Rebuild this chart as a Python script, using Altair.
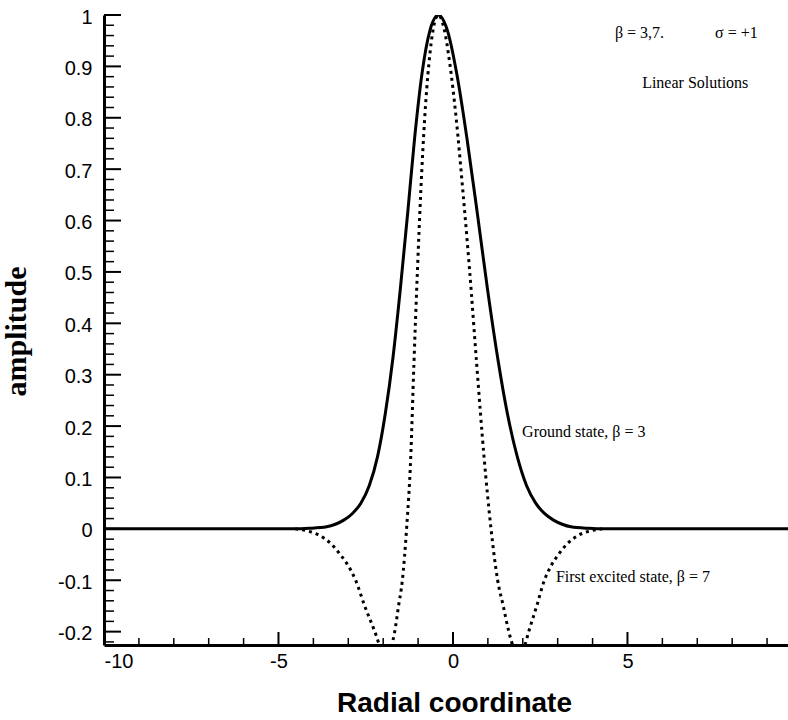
import altair as alt
import pandas as pd

# Ground state, beta = 3 (solid)
ground_x = [-10, -4.62, -4.12, -3.62, -3.37, -3.13, -2.88, -2.64, -2.40, -2.16, -1.94, -1.72,
            -1.51, -1.30, -1.10, -0.89, -0.66, -0.42, -0.16, 0.11, 0.40, 0.70, 0.99, 1.28,
            1.56, 1.84, 2.11, 2.37, 2.62, 2.88, 3.13, 3.38, 3.88, 4.38, 9.6]
ground_y = [0, 0, 0.001, 0.004, 0.009, 0.017, 0.030, 0.050, 0.084, 0.141, 0.224, 0.333,
            0.466, 0.613, 0.760, 0.885, 0.970, 1.000, 0.970, 0.885, 0.760, 0.613, 0.466, 0.333,
            0.224, 0.141, 0.084, 0.050, 0.030, 0.017, 0.009, 0.004, 0.001, 0, 0]

# First excited state, beta = 7 (dotted)
excited_x = [-4.52, -4.12, -3.82, -3.51, -3.23, -3.00, -2.79, -2.53, -2.24, -2.07, -1.91, -1.78,
             -1.67, -1.56, -1.45, -1.33, -1.21, -1.12, -1.02, -0.92, -0.81, -0.69, -0.56, -0.42,
             -0.26, -0.09, 0.09, 0.28, 0.48, 0.68, 0.89, 1.09, 1.28, 1.44, 1.60, 1.74,
             1.88, 2.03, 2.17, 2.40, 2.62, 2.81, 3.02, 3.29, 3.58, 3.88, 4.28]
excited_y = [0, -0.005, -0.013, -0.028, -0.05, -0.072, -0.1, -0.15, -0.2, -0.232, -0.245, -0.232,
             -0.2, -0.15, -0.1, 0.0, 0.14, 0.32, 0.50, 0.66, 0.80, 0.905, 0.975, 1.0,
             0.975, 0.905, 0.80, 0.66, 0.50, 0.32, 0.14, 0.0, -0.1, -0.15, -0.2, -0.232,
             -0.245, -0.232, -0.2, -0.15, -0.1, -0.072, -0.05, -0.028, -0.013, -0.005, 0]

x_major = [-10, -5, 0, 5]
x_minor = [-9, -8, -7, -6, -4, -3, -2, -1, 1, 2, 3, 4, 6, 7, 8, 9]
y_major = [-0.2, -0.1, 0, 0.1, 0.2, 0.3, 0.4, 0.5, 0.6, 0.7, 0.8, 0.9, 1]
y_minor = [-0.22, -0.18, -0.16, -0.14, -0.12, -0.08, -0.06, -0.04, -0.02,
           0.02, 0.04, 0.06, 0.08, 0.12, 0.14, 0.16, 0.18, 0.22, 0.24, 0.26, 0.28,
           0.32, 0.34, 0.36, 0.38, 0.42, 0.44, 0.46, 0.48, 0.52, 0.54, 0.56, 0.58,
           0.62, 0.64, 0.66, 0.68, 0.72, 0.74, 0.76, 0.78, 0.82, 0.84, 0.86, 0.88,
           0.92, 0.94, 0.96, 0.98]

notes_text = ["β = 3,7.", "σ = +1", "Linear Solutions", "Ground state, β = 3",
              "First excited state, β = 7"]
notes_x = [4.64, 7.51, 5.42, 1.98, 2.95]
notes_y = [0.965, 0.965, 0.868, 0.189, -0.094]

W, H = 684, 630
xscale = alt.Scale(domain=[-10, 9.6], nice=False, zero=False)
yscale = alt.Scale(domain=[-0.226, 1.0], nice=False, zero=False)

SANS = "Liberation Sans"
SERIF = "Liberation Serif"

xaxis = alt.Axis(values=x_major, labelExpr="'' + datum.value", title="Radial coordinate",
                 ticks=False, grid=False, domainColor="black", domainWidth=3,
                 labelFont=SANS, labelFontSize=20, labelColor="black", labelPadding=6,
                 titleFont=SANS, titleFontSize=28, titleFontWeight="bold", titleColor="black",
                 titleX=350, titleY=66, titleBaseline="alphabetic", titleAlign="center")
yaxis = alt.Axis(values=y_major, labelExpr="'' + datum.value", title="amplitude",
                 ticks=False, grid=False, domainColor="black", domainWidth=3,
                 labelFont=SANS, labelFontSize=20, labelColor="black", labelPadding=12,
                 labelOffset=2,
                 titleFont=SERIF, titleFontSize=30, titleFontWeight="bold", titleColor="black",
                 titleAngle=270, titleX=-79, titleY=316, titleBaseline="alphabetic",
                 titleAlign="center")

X = alt.X("x:Q", scale=xscale, axis=xaxis)
Y = alt.Y("y:Q", scale=yscale, axis=yaxis)

ground = pd.DataFrame({"x": ground_x, "y": ground_y})
excited = pd.DataFrame({"x": excited_x, "y": excited_y})

solid = alt.Chart(ground).mark_line(color="black", strokeWidth=3, interpolate="monotone",
                                    clip=True).encode(x=X, y=Y)
dotted = alt.Chart(excited).mark_line(color="black", strokeWidth=3, strokeDash=[3, 4],
                                      strokeCap="butt", interpolate="monotone",
                                      clip=True).encode(x=X, y=Y)

xmaj = alt.Chart(pd.DataFrame({"x": x_major})).mark_rule(color="black", strokeWidth=2).encode(
    x=X, y=alt.value(H), y2=alt.value(H - 13))
xmin = alt.Chart(pd.DataFrame({"x": x_minor})).mark_rule(color="black", strokeWidth=1.5).encode(
    x=X, y=alt.value(H), y2=alt.value(H - 7))
ymaj = alt.Chart(pd.DataFrame({"y": y_major})).mark_rule(color="black", strokeWidth=2).encode(
    y=Y, x=alt.value(0), x2=alt.value(17))
ymin = alt.Chart(pd.DataFrame({"y": y_minor})).mark_rule(color="black", strokeWidth=1.5).encode(
    y=Y, x=alt.value(0), x2=alt.value(10))

notes = alt.Chart(pd.DataFrame({"t": notes_text, "x": notes_x, "y": notes_y})).mark_text(
    align="left", baseline="middle", font=SERIF, fontSize=16, color="black").encode(
    x=X, y=Y, text="t:N")

chart = alt.layer(solid, dotted, xmaj, xmin, ymaj, ymin, notes).properties(
    width=W, height=H,
    autosize=alt.AutoSizeParams(type="none"),
    padding={"left": 104, "top": 15, "right": 0, "bottom": 75},
    background="white",
).configure_view(stroke=None)

chart.save("out.html", embed_options={"renderer": "svg", "actions": False})
